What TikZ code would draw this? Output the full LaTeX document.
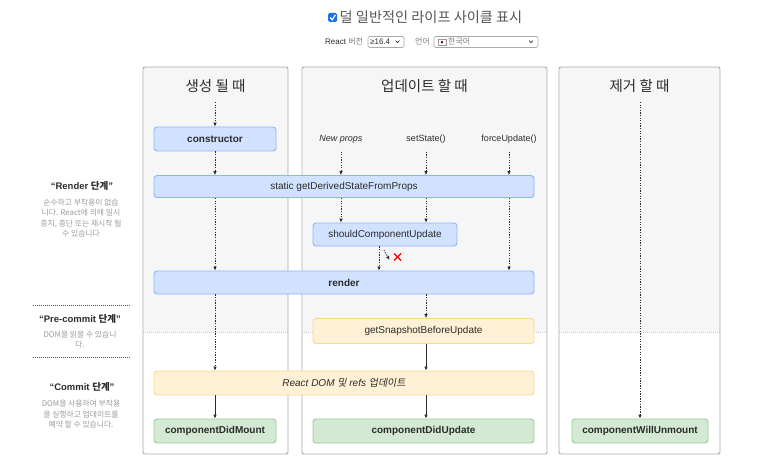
\documentclass[tikz,border=0pt]{standalone}
\usepackage{fontspec}
\setmainfont{Liberation Sans}
\newfontfamily\krfont{Noto Sans CJK KR}
\newfontfamily\krslant[FakeSlant=0.2]{Noto Sans CJK KR}
\usetikzlibrary{arrows.meta,positioning}

\definecolor{panelbg}{HTML}{F6F6F6}
\definecolor{panelline}{HTML}{A9A9A9}
\definecolor{bluefill}{HTML}{D0E2FF}
\definecolor{blueline}{HTML}{8CB6FA}
\definecolor{yellowfill}{HTML}{FFF1D5}
\definecolor{yellowline}{HTML}{FAD88C}
\definecolor{greenfill}{HTML}{D4E9D4}
\definecolor{greenline}{HTML}{98CF98}
\definecolor{ink}{HTML}{2B2B2B}
\definecolor{note}{HTML}{9A9A9A}
\definecolor{checkblue}{HTML}{1A73E8}

\tikzset{
  method/.style={draw,rounded corners=3pt,line width=0.9pt,minimum height=23pt,inner sep=0pt,text=ink,font=\fontsize{10}{12}\selectfont},
  renderbox/.style={method,fill=bluefill,draw=blueline},
  precommitbox/.style={method,fill=yellowfill,draw=yellowline},
  commitbox/.style={method,fill=greenfill,draw=greenline,font=\fontsize{10}{12}\selectfont\bfseries},
  flow/.style={-{Latex[length=4pt,width=3.6pt]},draw=ink,line width=0.75pt,dash pattern=on 1.3pt off 1.3pt},
  sync/.style={-{Latex[length=4pt,width=3.6pt]},draw=ink,line width=0.75pt},
  panel/.style={draw=panelline,line width=0.9pt,rounded corners=2pt},
  divider/.style={draw=panelline!60,line width=0.6pt,dash pattern=on 1pt off 1pt},
  phaserule/.style={draw=ink!80,line width=0.8pt,dash pattern=on 1pt off 1pt},
  header/.style={font=\fontsize{14.5}{16}\selectfont\krfont,text=ink},
  trigger/.style={font=\fontsize{9}{11}\selectfont,text=ink},
  phasetitle/.style={font=\fontsize{9.5}{11}\selectfont\bfseries,text=ink},
  phasenote/.style={font=\fontsize{7.8}{10.5}\selectfont\krfont,text=note,align=center},
  dropdown/.style={draw=panelline,line width=0.7pt,rounded corners=1.5pt},
}

\begin{document}
\begin{tikzpicture}[x=1pt,y=-1pt]
\useasboundingbox (0,0) rectangle (760,465);

% Top controls.
\fill[checkblue,rounded corners=1.5pt] (328,13) rectangle (337,22);
\draw[white,line width=1.2pt] (330,17.5) -- (332.2,19.8) -- (335.4,14.8);
\node[font=\fontsize{14.2}{16}\selectfont\krfont,text=ink!80] (title) at (431,17) {덜 일반적인 라이프 사이클 표시};
\node[anchor=west,font=\fontsize{8}{10}\selectfont,text=ink,inner sep=0pt] (verlabel) at (325,42) {React {\krfont\color{note!80!black}버전}};
\draw[dropdown] (368,36.5) rectangle (404,47.5);
\node[anchor=west,font=\fontsize{8}{10}\selectfont,text=ink,inner sep=0pt] (vervalue) at (370,42) {≥16.4};
\draw[ink,line width=0.6pt] (395.5,40.5) -- (397.5,42.7) -- (399.5,40.5);
\node[anchor=west,font=\fontsize{8}{10}\selectfont\krfont,text=note!80!black,inner sep=0pt] (langlabel) at (415,42) {언어};
\draw[dropdown] (434,36.5) rectangle (538,47.5);
\fill[white,draw=note,line width=0.3pt] (438,39) rectangle (446,45);
\fill[red!80!black] (442,42) circle (1.4pt);
\fill[blue!70!black] (442,42.5) circle (0.9pt);
\node[anchor=west,font=\fontsize{8}{10}\selectfont\krfont,text=note!80!black,inner sep=0pt] (langvalue) at (448,42) {한국어};
\draw[ink,line width=0.6pt] (529,40.5) -- (531,42.7) -- (533,40.5);

% Three columns.
\foreach \xl/\xr in {143/288,302/547,559/720}{
  \fill[panelbg] (\xl+0.5,67.5) rectangle (\xr-0.5,332);
  \draw[divider] (\xl,332) -- (\xr,332);
  \draw[panel] (\xl,67) rectangle (\xr,454);
}
\node[header] (mounting) at (215.5,86) {생성 될 때};
\node[header] (updating) at (424.5,86) {업데이트 할 때};
\node[header] (unmounting) at (639.5,86) {제거 할 때};

% Phase labels on the left.
\node[phasetitle] (renderphase) at (82,186) {“Render {\krfont 단계}”};
\node[phasenote] (rendernote) at (81,218) {순수하고 부작용이 없습\\니다. React에 의해 일시\\중지, 중단 또는 재시작 될\\수 있습니다};
\draw[phaserule] (33,305) -- (130,305);
\node[phasetitle] (precommitphase) at (80,319) {“Pre-commit {\krfont 단계}”};
\node[phasenote] (precommitnote) at (80,339.5) {DOM을 읽을 수 있습니\\다.};
\draw[phaserule] (33,357) -- (130,357);
\node[phasetitle] (commitphase) at (82,387) {“Commit {\krfont 단계}”};
\node[phasenote] (commitnote) at (81,414.5) {DOM을 사용하여 부작용\\을 실행하고 업데이트를\\예약 할 수 있습니다.};

% Lifecycle methods.
\node[renderbox,minimum width=122pt,minimum height=24pt,font=\fontsize{10}{12}\selectfont\bfseries] (constructor) at (215,139) {constructor};
\node[renderbox,minimum width=380pt,minimum height=22pt] (gdsfp) at (344,186.5) {static getDerivedStateFromProps};
\node[renderbox,minimum width=144pt] (scu) at (385,234.5) {shouldComponentUpdate};
\node[renderbox,minimum width=380pt,font=\fontsize{10}{12}\selectfont\bfseries] (render) at (344,282.5) {render};
\node[precommitbox,minimum width=221pt,minimum height=25pt] (gsbu) at (423.5,331) {getSnapshotBeforeUpdate};
\node[precommitbox,minimum width=380pt,minimum height=24pt,font=\fontsize{10}{12}\selectfont\itshape] (domupdate) at (344,383) {React DOM {\krslant 및} refs {\krslant 업데이트}};
\node[commitbox,minimum width=122pt,minimum height=24pt] (cdm) at (215,431) {componentDidMount};
\node[commitbox,minimum width=221pt,minimum height=24pt] (cdu) at (423.5,431) {componentDidUpdate};
\node[commitbox,minimum width=136pt,minimum height=24pt] (cwu) at (640,431) {componentWillUnmount};

% Update triggers.
\node[trigger,font=\fontsize{9}{11}\selectfont\itshape] (newprops) at (341,139) {New props};
\node[trigger] (setstate) at (426,139) {setState()};
\node[trigger] (forceupdate) at (509,139) {forceUpdate()};

% Mounting column.
\coordinate (mounttop) at (215,102);
\draw[flow] (mounttop) -- (constructor.north);
\draw[flow] (constructor.south) -- (gdsfp.north -| constructor);
\draw[flow] (gdsfp.south -| constructor) -- (render.north -| constructor);
\draw[flow] (render.south -| constructor) -- (domupdate.north -| constructor);
\draw[sync] (domupdate.south -| constructor) -- (cdm.north);

% Updating column.
\foreach \src in {newprops,setstate,forceupdate}{
  \draw[flow] ([yshift=-5pt]\src.south) -- (gdsfp.north -| \src);
}
\draw[flow] (gdsfp.south -| newprops) -- (scu.north -| newprops);
\draw[flow] (gdsfp.south -| setstate) -- (scu.north -| setstate);
\draw[flow] (gdsfp.south -| forceupdate) -- (render.north -| forceupdate);
\draw[flow] ([xshift=-6pt]scu.south) -- ([xshift=-6pt]scu.south |- render.north);
\coordinate (skipstart) at (384,250);
\coordinate (skipend) at (389.5,260);
\draw[flow] (skipstart) -- (skipend);
\draw[red,line width=1.3pt] (394,253.5) -- (401,260.5) (394,260.5) -- (401,253.5);
\draw[flow] (render.south -| setstate) -- (gsbu.north -| setstate);
\draw[sync] (gsbu.south -| setstate) -- (domupdate.north -| setstate);
\draw[sync] (domupdate.south -| setstate) -- (cdu.north -| setstate);

% Unmounting column.
\coordinate (unmounttop) at (640,102);
\draw[flow] (unmounttop) -- (cwu.north);
\end{tikzpicture}
\end{document}
